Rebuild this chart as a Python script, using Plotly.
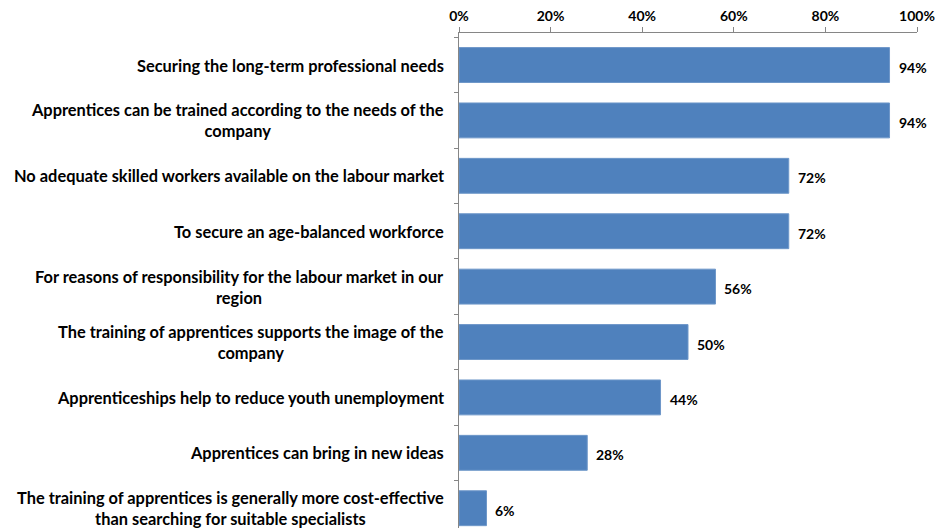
import plotly.graph_objects as go

reasons = [
    "Securing the long-term professional needs",
    "Apprentices can be trained according to the needs of the<br>company",
    "No adequate skilled workers available on the labour market",
    "To secure an age-balanced workforce",
    "For reasons of responsibility for the labour market in our<br>region",
    "The training of apprentices supports the image of the<br>company",
    "Apprenticeships help to reduce youth unemployment",
    "Apprentices can bring in new ideas",
    "The training of apprentices is generally more cost-effective<br>than searching for suitable specialists",
]
shares = [94, 94, 72, 72, 56, 50, 44, 28, 6]
x_ticks = [0, 20, 40, 60, 80, 100]
x_tick_labels = ["0%", "20%", "40%", "60%", "80%", "100%"]

FONT = "Lato"
BAR = "#4F81BD"
AXIS = "#868686"

keys = [f"c{i}" for i in range(len(reasons))]

fig = go.Figure(
    go.Bar(
        x=shares,
        y=keys,
        orientation="h",
        marker=dict(color=BAR, line=dict(color="#6E97C9", width=1)),
        hoverinfo="skip",
    )
)

annotations = []
for k, label in zip(keys, reasons):
    annotations.append(dict(
        x=0, y=k, xref="x", yref="y", text=label, showarrow=False,
        xanchor="right", yanchor="middle", align="center", xshift=-13,
        font=dict(family=FONT, size=16.4, color="black", weight="bold"),
    ))
for k, v in zip(keys, shares):
    annotations.append(dict(
        x=v, y=k, xref="x", yref="y", text=f"{v}%", showarrow=False,
        xanchor="left", yanchor="middle", xshift=7, yshift=-2,
        font=dict(family=FONT, size=14, color="black", weight="bold"),
    ))

fig.update_layout(
    width=935, height=528,
    margin=dict(l=459, r=18, t=33, b=0),
    paper_bgcolor="white", plot_bgcolor="white",
    showlegend=False,
    bargap=0.37,
    annotations=annotations,
    xaxis=dict(
        side="top", range=[0, 100], tickvals=x_ticks, ticktext=x_tick_labels,
        showgrid=False, zeroline=False, showline=True, linecolor=AXIS, linewidth=1,
        ticks="outside", ticklen=5, tickcolor=AXIS,
        tickfont=dict(family=FONT, size=14, color="black", weight="bold"),
    ),
    yaxis=dict(
        type="category", categoryorder="array", categoryarray=keys,
        range=[8.357, -0.578], showticklabels=False,
        showgrid=False, zeroline=False, showline=True, linecolor=AXIS, linewidth=1,
        ticks="outside", ticklen=4, tickcolor=AXIS, tickson="boundaries",
    ),
)

fig.write_html("out.html")
